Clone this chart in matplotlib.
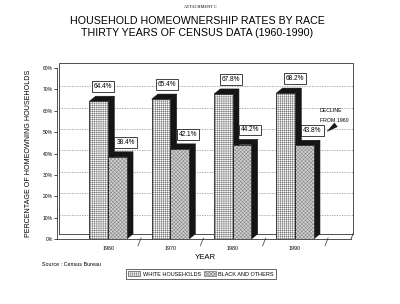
#!/usr/bin/env python3
import matplotlib
matplotlib.use('Agg')
import matplotlib.pyplot as plt
from matplotlib.patches import Polygon, Patch

### data
years = ['1960', '1970', '1980', '1990']
white = [64.4, 65.4, 67.8, 68.2]
black = [38.4, 42.1, 44.2, 43.8]
yticks = [0, 10, 20, 30, 40, 50, 60, 70, 80]

plt.rcParams['font.family'] = ['Liberation Sans', 'DejaVu Sans']
plt.rcParams['hatch.linewidth'] = 0.3

fig = plt.figure(figsize=(4.0, 3.04), dpi=100)
ax = fig.add_axes([57/400, 65/304, 296/400, 171/304])

w = 0.3      # bar width
dx = 0.1     # 3d depth, x
dy = 2.4     # 3d depth, y
xmin, xmax = -0.82, 3.93
dark = '#151515'
hw, hb = '++++++++', 'xxxxxxxxx'

def bar3d(x0, v, face, hatch, hcol):
    ax.add_patch(Polygon([(x0, v), (x0+dx, v+dy), (x0+w+dx, v+dy), (x0+w, v)],
                         closed=True, fc=dark, ec=dark, lw=0.4, zorder=3))
    ax.add_patch(Polygon([(x0+w, 0), (x0+w+dx, dy), (x0+w+dx, v+dy), (x0+w, v)],
                         closed=True, fc=dark, ec=dark, lw=0.4, zorder=3))
    ax.bar(x0, v, width=w, align='edge', color=face, hatch=hatch,
           edgecolor=hcol, lw=0.5, zorder=4)
    ax.bar(x0, v, width=w, align='edge', fill=False, edgecolor='#222222', lw=0.5, zorder=5)

box = dict(boxstyle='square,pad=0.3', fc='white', ec='#222222', lw=0.6)
for i in range(len(years)):
    bar3d(i - w, white[i], 'white', hw, '#606060')
    bar3d(i, black[i], '#d0d0d0', hb, '#777777')
    ax.text(i - 0.15 + 0.07 + 0.025*i, white[i] + 6.8, '%.1f%%' % white[i],
            ha='center', va='center', fontsize=4.7, bbox=box, zorder=6)
    ax.text(i + 0.15 + 0.13, black[i] + 6.8, '%.1f%%' % black[i],
            ha='center', va='center', fontsize=4.7, bbox=box, zorder=6)

### walls, floor and grid
lk = dict(color='#333333', lw=0.6, clip_on=False, zorder=2)
ax.plot([xmin, xmin], [0, 80], **lk)
ax.plot([xmin+0.03, xmin+0.03, xmax, xmax], [dy, 80+dy, 80+dy, dy], **lk)
ax.plot([xmin, xmax-0.03], [0, 0], **lk)
ax.plot([xmin+0.03, xmax], [dy, dy], **lk)
ax.plot([xmax-0.03, xmax], [0, dy], **lk)
for t in yticks[1:-1]:
    ax.plot([xmin+0.03, xmax], [t+dy*0.6, t+dy*0.6], color='#777777', lw=0.45,
            ls=(0, (2, 2)), zorder=1)
for b in [0.5, 1.5, 2.5, 3.5]:
    ax.plot([b-0.02, b+0.03], [-3.2, 0.5], color='#333333', lw=0.5, clip_on=False)

ax.set_xlim(xmin, xmax)
ax.set_ylim(0, 80)
for s in ax.spines.values():
    s.set_visible(False)
ax.set_yticks(yticks)
ax.set_yticklabels(['%d%%' % t for t in yticks], fontsize=3.6)
ax.tick_params(axis='y', length=2, width=0.5, pad=1)
ax.set_xticks(range(len(years)))
ax.set_xticklabels(years, fontsize=3.8)
ax.tick_params(axis='x', length=0, pad=5)
ax.set_xlabel('YEAR', fontsize=5.6, labelpad=2)
ax.set_ylabel('PERCENTAGE OF HOMEOWNING HOUSEHOLDS', fontsize=5.1, labelpad=8)

ax.text(3.40, 60.3, 'DECLINE', fontsize=3.8, ha='left', va='center')
ax.text(3.40, 55.6, 'FROM 1960', fontsize=3.8, ha='left', va='center')
ax.annotate('', xy=(3.48, 49.5), xytext=(3.69, 54.2),
            arrowprops=dict(arrowstyle='wedge,tail_width=0.35', fc=dark, ec=dark, lw=0.3))

### titles, source, legend
fig.text(0.5, 1 - 7/304, 'ATTACHMENT C', fontsize=3.2, ha='center', va='center',
         family='Liberation Serif')
fig.text(197/400, 1 - 21/304, 'HOUSEHOLD HOMEOWNERSHIP RATES BY RACE',
         fontsize=7.7, ha='center', va='center')
fig.text(197/400, 1 - 33/304, 'THIRTY YEARS OF CENSUS DATA (1960-1990)',
         fontsize=7.7, ha='center', va='center')
fig.text(42/400, 1 - 264/304, 'Source : Census Bureau', fontsize=3.9, ha='left', va='center')

handles = [Patch(fc='white', hatch=hw, ec='#606060', lw=0.5),
           Patch(fc='#d0d0d0', hatch=hb, ec='#777777', lw=0.5)]
leg = fig.legend(handles, ['WHITE HOUSEHOLDS', 'BLACK AND OTHERS'], ncol=2,
                 loc='center', bbox_to_anchor=(201/400, 1 - 274/304), fontsize=4.0,
                 frameon=True, fancybox=False, edgecolor='#222222',
                 handlelength=2.2, handleheight=1.0, handletextpad=0.4,
                 columnspacing=0.6, borderpad=0.4)
leg.get_frame().set_linewidth(0.6)

fig.savefig('out.png', dpi=100)
